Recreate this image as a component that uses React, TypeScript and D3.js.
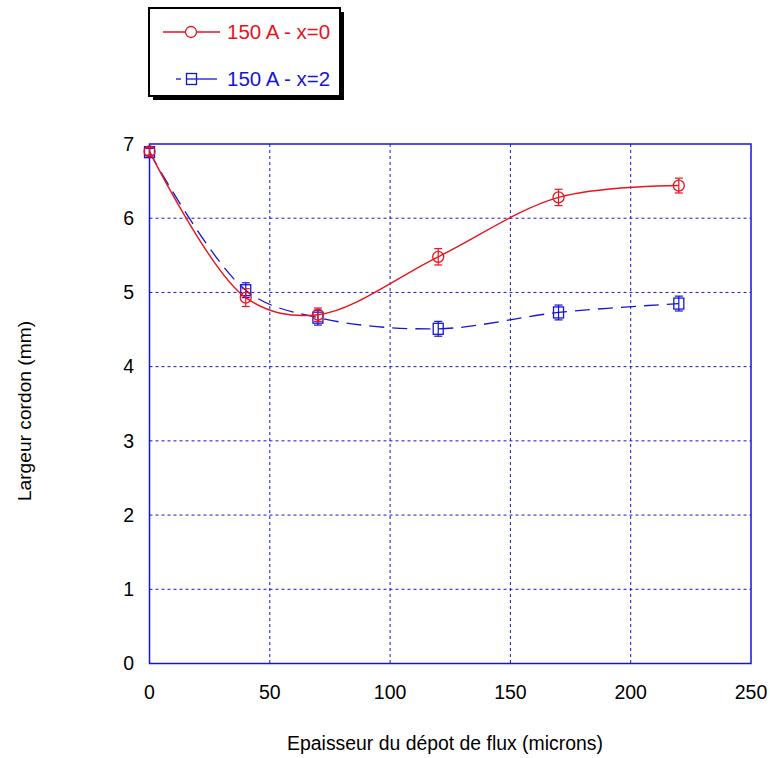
import React from "react";
import * as d3 from "d3";

const xValues = [0, 40, 70, 120, 170, 220];
const seriesRed = [6.9, 4.93, 4.7, 5.48, 6.28, 6.44];
const errRed = [0.05, 0.12, 0.09, 0.11, 0.11, 0.1];
const seriesBlue = [6.89, 5.03, 4.66, 4.51, 4.73, 4.85];
const errBlue = [0.05, 0.1, 0.1, 0.1, 0.1, 0.1];
const xTicks = [0, 50, 100, 150, 200, 250];
const yTicks = [0, 1, 2, 3, 4, 5, 6, 7];
const legendLabels = ["150 A - x=0", "150 A - x=2"];
const xTitle = "Epaisseur du dépot de flux (microns)";
const yTitle = "Largeur cordon (mm)";

const FONT = "'Liberation Sans', Arial, Helvetica, sans-serif";
const RED = "#e8141c";
const BLUE = "#1515d6";

export default function App() {
  const left = 149.5, right = 751, top = 144, bottom = 663.5;
  const x = d3.scaleLinear().domain([0, 250]).range([left, right]);
  const y = d3.scaleLinear().domain([0, 7]).range([bottom, top]);

  const line = d3
    .line<number>()
    .x((_, i) => x(xValues[i]))
    .y((d) => y(d))
    .curve(d3.curveCatmullRom.alpha(0.5));

  const errBars = (vals: number[], errs: number[], color: string) =>
    vals.map((v, i) => {
      const cx = x(xValues[i]);
      const y1 = y(v + errs[i]);
      const y2 = y(v - errs[i]);
      return (
        <g key={i} stroke={color} strokeWidth={1.2}>
          <line x1={cx} x2={cx} y1={y1} y2={y2} />
          <line x1={cx - 4} x2={cx + 4} y1={y1} y2={y1} />
          <line x1={cx - 4} x2={cx + 4} y1={y2} y2={y2} />
        </g>
      );
    });

  return (
    <svg
      width={770}
      height={758}
      style={{ position: "absolute", left: 0, top: 0, background: "#fff" }}
      fontFamily={FONT}
    >
      <rect x={0} y={0} width={770} height={758} fill="#fff" />
      {/* grid */}
      {xTicks.slice(1, -1).map((t) => (
        <line key={"gx" + t} x1={x(t)} x2={x(t)} y1={top} y2={bottom} stroke={BLUE} strokeWidth={1} strokeDasharray="3,3" />
      ))}
      {yTicks.slice(1, -1).map((t) => (
        <line key={"gy" + t} x1={left} x2={right} y1={y(t)} y2={y(t)} stroke={BLUE} strokeWidth={1} strokeDasharray="3,3" />
      ))}
      {/* frame */}
      <rect x={left} y={top} width={right - left} height={bottom - top} fill="none" stroke={BLUE} strokeWidth={1.5} />
      {/* tick labels */}
      {yTicks.map((t) => (
        <text key={"yl" + t} x={134} y={y(t)} dy="0.35em" textAnchor="end" fontSize={19.5} fill="#000">
          {t}
        </text>
      ))}
      {xTicks.map((t) => (
        <text key={"xl" + t} x={x(t)} y={692} dy="0.35em" textAnchor="middle" fontSize={19.5} fill="#000">
          {t}
        </text>
      ))}
      <text x={445} y={743} dy="0.35em" textAnchor="middle" fontSize={19.4} fill="#000">
        {xTitle}
      </text>
      <text transform={`translate(24,411) rotate(-90)`} dy="0.35em" textAnchor="middle" fontSize={19.2} fill="#000">
        {yTitle}
      </text>
      {/* blue series */}
      <path d={line(seriesBlue) || ""} fill="none" stroke={BLUE} strokeWidth={1.3} strokeDasharray="15,8" />
      {errBars(seriesBlue, errBlue, BLUE)}
      {seriesBlue.map((v, i) => (
        <rect key={"bs" + i} x={x(xValues[i]) - 5} y={y(v) - 5.5} width={10} height={11} fill="none" stroke={BLUE} strokeWidth={1.3} />
      ))}
      {/* red series */}
      <path d={line(seriesRed) || ""} fill="none" stroke={RED} strokeWidth={1.4} />
      {errBars(seriesRed, errRed, RED)}
      {seriesRed.map((v, i) => (
        <circle key={"rc" + i} cx={x(xValues[i])} cy={y(v)} r={5.5} fill="none" stroke={RED} strokeWidth={1.3} />
      ))}
      {/* legend */}
      <rect x={153} y={12} width={191} height={88} fill="#000" />
      <rect x={149} y={8} width={191} height={88} fill="#fff" stroke="#000" strokeWidth={2} />
      <line x1={163} x2={220} y1={32} y2={32} stroke={RED} strokeWidth={1.3} />
      <circle cx={191} cy={32} r={5.5} fill="#fff" stroke={RED} strokeWidth={1.3} />
      <text x={227} y={32} dy="0.35em" fontSize={20.5} fill={RED}>
        {legendLabels[0]}
      </text>
      <line x1={176} x2={181} y1={79} y2={79} stroke={BLUE} strokeWidth={1.3} />
      <line x1={197} x2={217} y1={79} y2={79} stroke={BLUE} strokeWidth={1.3} />
      <rect x={186.5} y={73.5} width={10} height={11} fill="#fff" stroke={BLUE} strokeWidth={1.3} />
      <line x1={186.5} x2={196.5} y1={79} y2={79} stroke={BLUE} strokeWidth={1.3} />
      <text x={227} y={79} dy="0.35em" fontSize={20.5} fill={BLUE}>
        {legendLabels[1]}
      </text>
    </svg>
  );
}
